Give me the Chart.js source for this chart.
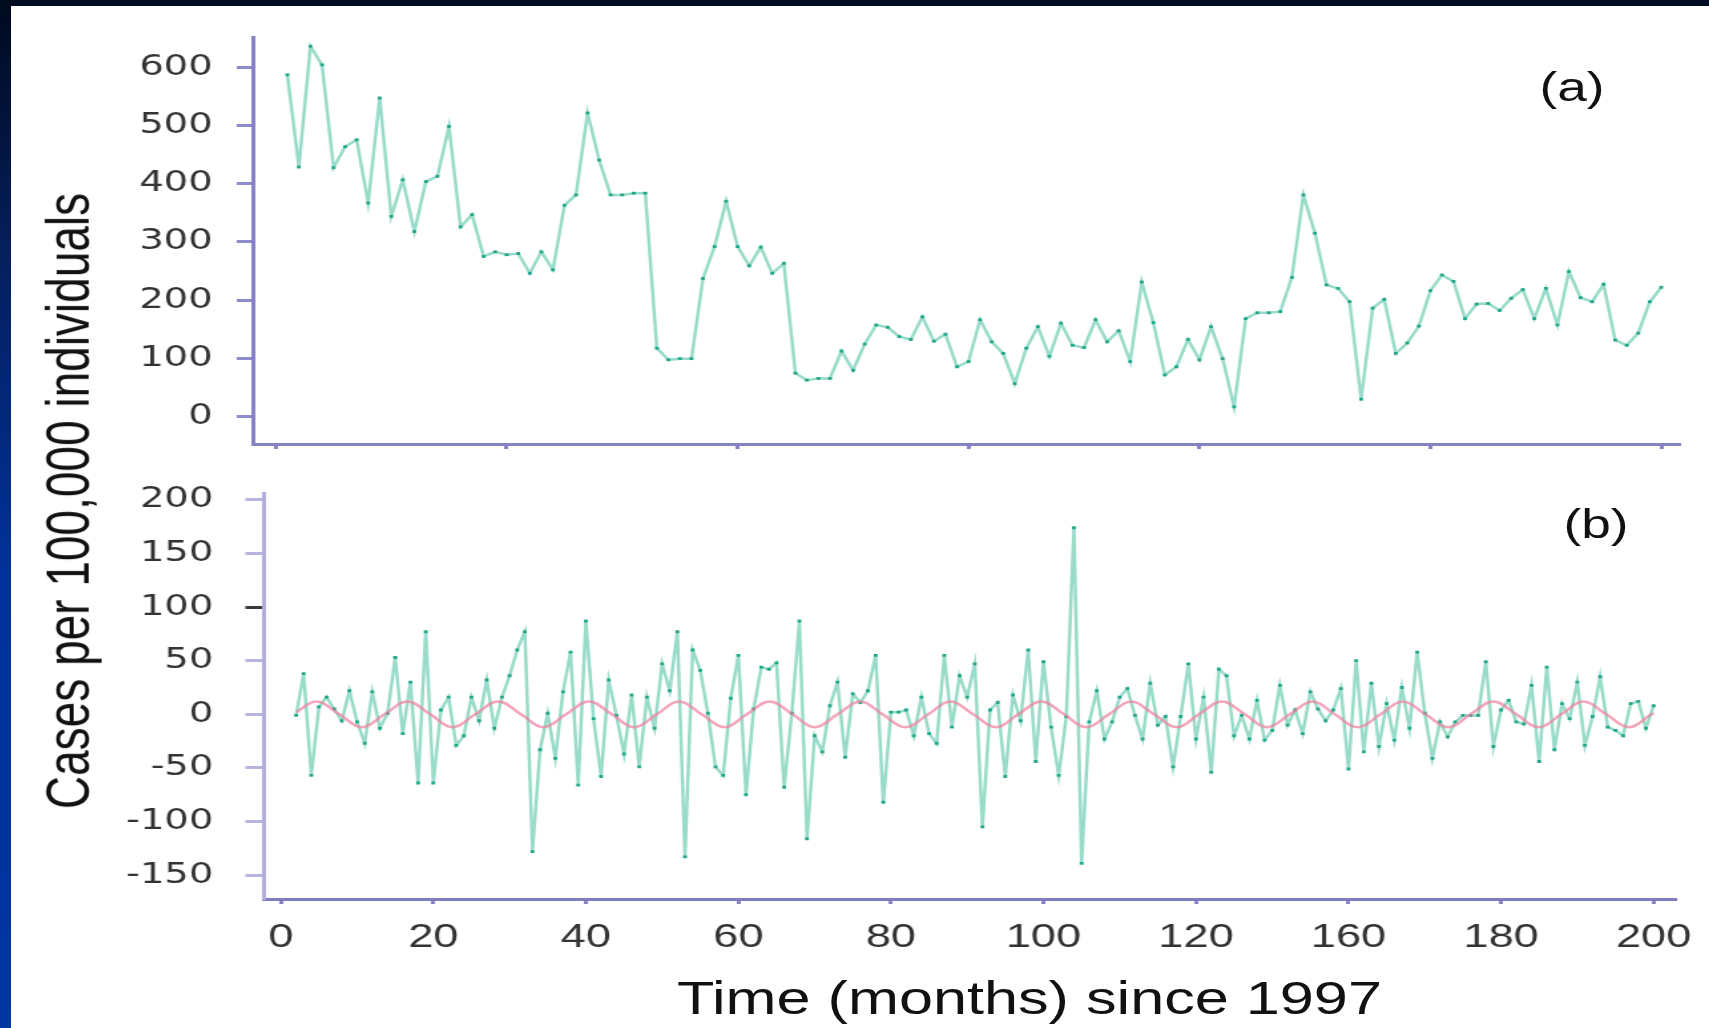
<!DOCTYPE html>
<html>
<head>
<meta charset="utf-8">
<title>Cases per 100,000 individuals</title>
<script src="https://cdn.jsdelivr.net/npm/chart.js@4.4.0/dist/chart.umd.min.js"></script>
<style>
  html, body { margin: 0; padding: 0; background: #fff; }
  body { position: relative; width: 1709px; height: 1028px; overflow: hidden; font-family: "Liberation Sans", Arial, sans-serif; color: #111; }
  /* the source figure is stretched sideways, so the whole plot is drawn narrow and scaled */
  #stage { position: absolute; left: 0; top: 0; width: 1285px; height: 1028px; transform: scaleX(1.33); transform-origin: 0 0; }
  #stage canvas { position: absolute; left: 0; }
  #casesChart { top: 0; }
  #residChart { top: 452px; }
  .label { position: absolute; white-space: nowrap; line-height: 1.15; transform: translate(-50%, -50%); }
  #yTitle { left: 51px; top: 501px; font-size: 46px; transform: translate(-50%, -50%) rotate(-90deg); }
  #xTitle { left: 774px; top: 998px; font-size: 46px; }
  #panelA { left: 1182px; top: 87px; font-size: 40px; }
  #panelB { left: 1200px; top: 524px; font-size: 40px; }
  #topBand { position: absolute; left: 0; top: 0; width: 1709px; height: 6px; background: #000b22; z-index: 2; }
  #leftBand { position: absolute; left: 0; top: 0; width: 11px; height: 1028px; z-index: 2;
              background: linear-gradient(#000a1e 0%, #061f5c 25%, #00309a 55%, #0035a2 100%); }
</style>
</head>
<body>
<div id="topBand"></div>
<div id="leftBand"></div>
<div id="stage">
  <canvas id="casesChart" width="1285" height="480"></canvas>
  <canvas id="residChart" width="1285" height="576"></canvas>
  <div class="label" id="yTitle">Cases per 100,000 individuals</div>
  <div class="label" id="xTitle">Time (months) since 1997</div>
  <div class="label" id="panelA">(a)</div>
  <div class="label" id="panelB">(b)</div>
</div>
<script>
// (a) monthly cases, one value per month starting at month 1
const caseStartMonth = 1;
const monthlyCases = [
  588, 429, 637, 605, 428, 464, 476, 367, 548, 344,
  407, 318, 404, 413, 499, 326, 347, 275, 283, 278,
  280, 246, 283, 252, 363, 381, 522, 441, 381, 381,
  384, 384, 117, 97, 99, 99, 237, 292, 370, 292,
  259, 291, 246, 263, 74, 62, 65, 65, 112, 79,
  124, 157, 153, 137, 132, 171, 129, 141, 85, 94,
  166, 128, 108, 56, 117, 154, 103, 160, 122, 118,
  166, 128, 147, 94, 231, 161, 71, 85, 132, 97,
  154, 99, 16, 168, 178, 178, 180, 239, 381, 315,
  226, 220, 197, 29, 186, 201, 108, 126, 155, 216,
  243, 232, 168, 193, 194, 182, 203, 218, 168, 220,
  157, 249, 204, 197, 227, 131, 122, 143, 197, 222
];

// (b) residuals, one value per month starting at month 2
const residualStartMonth = 2;
const residuals = [
  -1, 38, -57, 7, 16, 5, -6, 22, -7, -27,
  21, -13, 1, 53, -18, 30, -64, 77, -64, 4,
  16, -29, -20, 16, -6, 32, -13, 16, 36, 60,
  77, -128, -33, 1, -41, 21, 58, -66, 87, -4,
  -58, 32, -1, -37, 18, -49, 16, -13, 47, 22,
  77, -133, 60, 41, 1, -49, -57, 15, 55, -75,
  5, 44, 42, 48, -68, 1, 87, -116, -20, -35,
  8, 30, -40, 19, 11, 22, 55, -82, 2, 2,
  4, -20, 16, -18, -27, 55, -12, 36, 16, 47,
  -105, 4, 11, -58, 18, -6, 60, -44, 49, -12,
  -57, -2, 174, -139, -7, 22, -23, -7, 16, 24,
  -1, -23, 29, -10, -2, -49, -2, 47, -23, 16,
  -54, 42, 36, -20, -1, -23, 13, -24, -15, 27,
  -10, 4, -18, 21, 5, -6, 4, 24, -51, 50,
  -35, 29, -30, 10, -24, 25, -13, 58, 1, -41,
  -7, -21, -7, -1, -1, -1, 49, -30, 4, 13,
  -7, -9, 27, -44, 44, -33, 10, -4, 30, -29,
  -2, 35, -12, -15, -20, 10, 12, -13, 8
];

// (b) seasonal curve read at its peaks, troughs and crossings
const seasonalMonths = [
  2, 4.7, 7.7, 10.6, 13.6, 16.6, 19.6, 22.5, 25.5, 28.5, 31.5, 34.4, 37.4,
  40.4, 43.4, 46.3, 49.3, 52.2, 55.2, 58.2, 61.1, 64.1, 67.1, 70.0, 73.0,
  76.0, 78.9, 81.9, 84.9, 87.8, 90.8, 93.8, 96.7, 99.7, 102.7, 105.6, 108.6,
  111.5, 114.5, 117.5, 120.4, 123.4, 126.4, 129.3, 132.3, 135.3, 138.2, 141.2,
  144.2, 147.1, 150.1, 153.1, 156.0, 159.0, 162.0, 164.9, 167.9, 170.8, 173.8,
  176.8, 179.7, 180
];
const seasonalFit = [
  2, 12, 0, -12, 0, 12, 0, -12, 0, 12, 0, -12, 0,
  12, 0, -12, 0, 12, 0, -12, 0, 12, 0, -12, 0,
  12, 0, -12, 0, 12, 0, -12, 0, 12, 0, -12, 0,
  12, 0, -12, 0, 12, 0, -12, 0, 12, 0, -12,
  0, 12, 0, -12, 0, 12, 0, -12, 0, 12, 0,
  -12, 0, 1
];

const caseTicksX = [0, 20, 40, 60, 80, 100, 120];
const caseTicksY = [0, 100, 200, 300, 400, 500, 600];
const residTicksY = [-150, -100, -50, 0, 50, 100, 150, 200];
const monthTicks = [0, 20, 40, 60, 80, 100, 120, 140, 160, 180];
const monthTickLabels = ['0', '20', '40', '60', '80', '100', '120', '160', '180', '200'];

const toPoints = (start, values) => values.map((v, i) => ({ x: start + i, y: v }));
const fixTicks = list => scale => { scale.ticks = list.map(value => ({ value })); };

const axisColor = '#8582c4';
const tickFont = { family: 'DejaVu Sans', size: 29 };
const tealLine = {
  borderColor: '#98dbc8', borderWidth: 2.5, tension: 0,
  pointStyle: 'rect', pointRadius: 2, pointBackgroundColor: '#1fa587', pointBorderWidth: 0,
  order: 1
};
const quiet = { legend: { display: false }, tooltip: { enabled: false } };

new Chart(document.getElementById('casesChart'), {
  type: 'line',
  data: { datasets: [{ data: toPoints(caseStartMonth, monthlyCases), ...tealLine }] },
  options: {
    responsive: false,
    animation: false,
    layout: { padding: { top: 37, right: 22, left: 0, bottom: 0 } },
    plugins: quiet,
    scales: {
      x: {
        type: 'linear', min: -2, max: 121.6,
        afterBuildTicks: fixTicks(caseTicksX),
        afterFit: s => { s.height = 36; },
        ticks: { display: false },
        grid: { drawOnChartArea: false, tickLength: 5, tickWidth: 3, tickColor: axisColor },
        border: { color: axisColor, width: 3 }
      },
      y: {
        min: -48, max: 653,
        afterBuildTicks: fixTicks(caseTicksY),
        afterFit: s => { s.width = 190; },
        ticks: { font: tickFont, color: '#333', padding: 18, autoSkip: false },
        grid: { drawOnChartArea: false, tickLength: 12, tickWidth: 3, tickColor: '#8f8ccb' },
        border: { color: axisColor, width: 3 }
      }
    }
  }
});

new Chart(document.getElementById('residChart'), {
  type: 'line',
  data: {
    datasets: [
      {
        data: seasonalMonths.map((m, i) => ({ x: m, y: seasonalFit[i] })),
        borderColor: 'rgba(240, 128, 156, 0.7)', borderWidth: 2.5,
        pointRadius: 0, tension: 0.4, order: 0
      },
      { data: toPoints(residualStartMonth, residuals), ...tealLine }
    ]
  },
  options: {
    responsive: false,
    animation: false,
    layout: { padding: { top: 0, right: 23, left: 0, bottom: 0 } },
    plugins: quiet,
    scales: {
      x: {
        type: 'linear', min: -2.2, max: 183,
        afterBuildTicks: fixTicks(monthTicks),
        afterFit: s => { s.height = 129; },
        ticks: {
          font: { family: 'Liberation Sans', size: 34 }, color: '#333', padding: 13,
          maxRotation: 0, autoSkip: false,
          callback: (value, index) => monthTickLabels[index]
        },
        grid: { drawOnChartArea: false, tickLength: 5, tickWidth: 3, tickColor: axisColor },
        border: { color: '#7f7cc0', width: 3 }
      },
      y: {
        min: -172.2, max: 206,
        afterBuildTicks: fixTicks(residTicksY),
        afterFit: s => { s.width = 198.5; },
        ticks: { font: tickFont, color: '#333', padding: 24, autoSkip: false },
        grid: {
          drawOnChartArea: false, tickLength: 14, tickWidth: 3,
          tickColor: ctx => (ctx.tick && ctx.tick.value === 100 ? '#3a3a3a' : '#b6b4de')
        },
        border: { color: '#b0aedb', width: 3 }
      }
    }
  }
});
</script>
</body>
</html>
